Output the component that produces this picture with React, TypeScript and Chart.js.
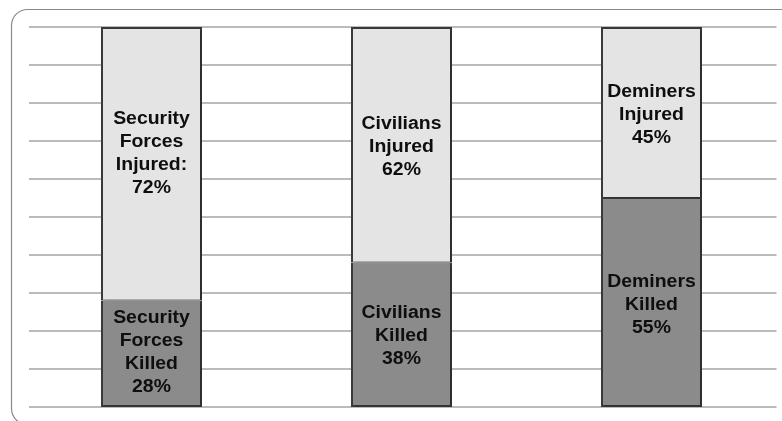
import React, { useEffect, useRef } from "react";
import { Chart, registerables } from "chart.js";

Chart.register(...registerables);

const categories = ["Security Forces", "Civilians", "Deminers"];
const killedValues = [28, 38, 55];
const injuredValues = [72, 62, 45];
const killedLabels = [
  ["Security", "Forces", "Killed", "28%"],
  ["Civilians", "Killed", "38%"],
  ["Deminers", "Killed", "55%"],
];
const injuredLabels = [
  ["Security", "Forces", "Injured:", "72%"],
  ["Civilians", "Injured", "62%"],
  ["Deminers", "Injured", "45%"],
];
const gridValues = [0, 10, 20, 30, 40, 50, 60, 70, 80, 90, 100];

const framePlugin = {
  id: "frame",
  beforeDraw(chart: any) {
    const ctx = chart.ctx;
    ctx.save();
    ctx.fillStyle = "#ffffff";
    ctx.fillRect(0, 0, chart.width, chart.height);
    ctx.strokeStyle = "#8a8a8a";
    ctx.lineWidth = 1.2;
    ctx.beginPath();
    (ctx as any).roundRect(11.5, 9.5, 810, 415, 16);
    ctx.stroke();
    ctx.restore();
  },
  beforeDatasetsDraw(chart: any) {
    const ctx = chart.ctx;
    const y = chart.scales.y;
    const area = chart.chartArea;
    ctx.save();
    ctx.strokeStyle = "#a4a4a4";
    ctx.lineWidth = 1.5;
    gridValues.forEach((v) => {
      const py = Math.round(y.getPixelForValue(v));
      ctx.beginPath();
      ctx.moveTo(29, py);
      ctx.lineTo(area.right, py);
      ctx.stroke();
    });
    ctx.restore();
    ctx.save();
    ctx.shadowColor = "rgba(0,0,0,0.28)";
    ctx.shadowOffsetX = 2;
    ctx.shadowOffsetY = 1;
    ctx.shadowBlur = 3;
  },
  afterDatasetsDraw(chart: any) {
    const ctx = chart.ctx;
    ctx.restore();
    const lineH = 23;
    const drawSet = (dsIndex: number, labels: string[][], shift: number[]) => {
      const meta = chart.getDatasetMeta(dsIndex);
      meta.data.forEach((bar: any, i: number) => {
        const top = Math.min(bar.y, bar.base);
        const bottom = Math.max(bar.y, bar.base);
        const cy = (top + bottom) / 2 + shift[i];
        const lines = labels[i];
        const startY = cy - ((lines.length - 1) * lineH) / 2;
        lines.forEach((t, k) => {
          ctx.save();
          ctx.translate(bar.x, startY + k * lineH);
          ctx.scale(1.08, 1);
          ctx.font = "bold 18px 'Liberation Sans', Arial, sans-serif";
          ctx.fillStyle = "#0e0e0e";
          ctx.textAlign = "center";
          ctx.textBaseline = "middle";
          ctx.fillText(t, 0, 0);
          ctx.restore();
        });
      });
    };
    drawSet(0, killedLabels, [-1, 1, 3]);
    drawSet(1, injuredLabels, [-10, 2, 3]);
  },
};

export default function App() {
  const ref = useRef<HTMLCanvasElement | null>(null);
  useEffect(() => {
    if (!ref.current) return;
    const chart = new Chart(ref.current, {
      type: "bar",
      data: {
        labels: categories,
        datasets: [
          {
            label: "Killed",
            data: killedValues,
            backgroundColor: "#8b8b8b",
            borderColor: "#3a3a3a",
            borderWidth: { left: 2, right: 2, bottom: 2, top: 1 } as any,
            borderSkipped: false,
            barPercentage: 1,
            categoryPercentage: 0.404,
          },
          {
            label: "Injured",
            data: injuredValues,
            backgroundColor: "#e4e4e4",
            borderColor: "#3a3a3a",
            borderWidth: { left: 2, right: 2, bottom: 1, top: 2 } as any,
            borderSkipped: false,
            barPercentage: 1,
            categoryPercentage: 0.404,
          },
        ],
      },
      options: {
        animation: false,
        responsive: true,
        maintainAspectRatio: false,
        layout: { padding: { left: 26.5, right: 5.5, top: 27, bottom: 14 } },
        plugins: {
          legend: { display: false },
          tooltip: { enabled: false },
          title: { display: false },
        },
        scales: {
          x: { stacked: true, display: false },
          y: { stacked: true, display: false, min: 0, max: 100 },
        },
      },
      plugins: [framePlugin],
    });
    return () => chart.destroy();
  }, []);
  return (
    <div style={{ position: "absolute", left: 0, top: 0, width: 782, height: 421 }}>
      <canvas ref={ref} />
    </div>
  );
}
